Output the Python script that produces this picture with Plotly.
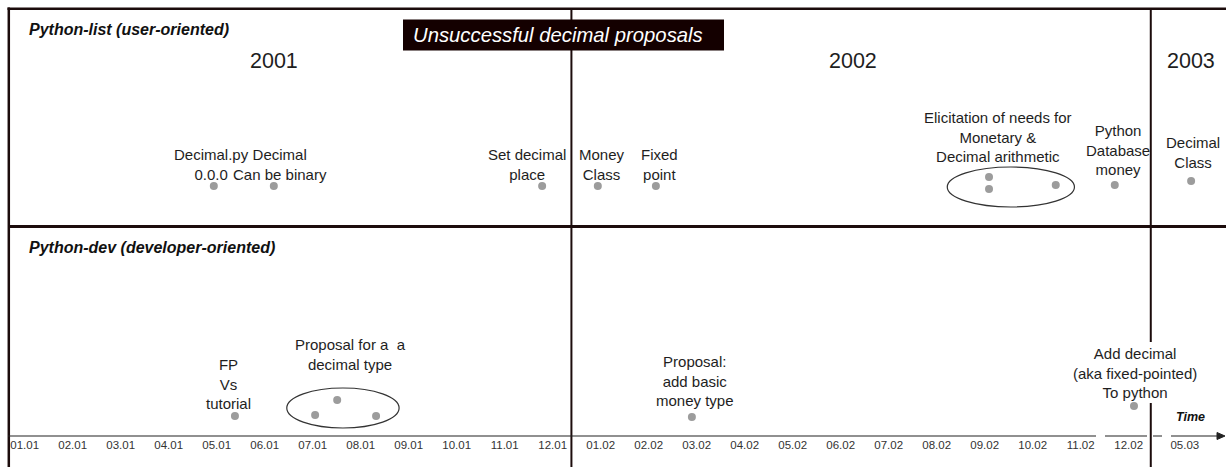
import plotly.graph_objects as go

W, H = 1226, 467

# ---------------- data ----------------
tick_labels = ["01.01", "02.01", "03.01", "04.01", "05.01", "06.01", "07.01", "08.01",
               "09.01", "10.01", "11.01", "12.01", "01.02", "02.02", "03.02", "04.02",
               "05.02", "06.02", "07.02", "08.02", "09.02", "10.02", "11.02", "12.02", "05.03"]
# month index on the time axis (05.03 follows a compressed time break)
tick_months = list(range(24)) + [24.17]

years = ["2001", "2002", "2003"]
year_label_month = [5.19, 17.26, 24.30]
year_boundary_month = [11.39, 23.46]

# Python-list (user-oriented) events: month index, height above time axis
user_month = [3.94, 5.19, 10.78, 11.94, 13.15, 20.09, 20.09, 21.48, 22.71, 24.30]
user_height = [250, 250, 250, 250, 250, 259, 247, 251, 251, 255]
user_labels = ["Decimal.py<br>0.0.0", "Decimal<br>Can be binary", "Set decimal<br>place",
               "Money<br>Class", "Fixed<br>point",
               "Elicitation of needs for<br>Monetary &<br>Decimal arithmetic",
               "Python<br>Database<br>money", "Decimal<br>Class"]
user_label_event = [0, 1, 2, 3, 4, 5, 8, 9]

# Python-dev (developer-oriented) events
dev_month = [4.38, 6.05, 6.51, 7.32, 13.90, 23.11]
dev_height = [20, 21, 36, 20, 19, 30]
dev_labels = ["FP<br>Vs<br>tutorial", "Proposal for a&nbsp; a<br>decimal type",
              "Proposal:<br>add basic<br>money type",
              "Add decimal<br>(aka fixed-pointed)<br>To python"]
dev_label_event = [0, 2, 4, 5]

# grouped discussions (ellipses): month from, month to, height low, height high
groups = [(19.22, 21.87, 229, 269), (5.46, 7.80, 8, 48)]

# ---------------- styling / layout ----------------
FONT = "Liberation Sans, Arial, Helvetica, sans-serif"
TXT = "#1e1e1e"
FRAME = "#1c0c0c"
DOT = "#9c9c9c"
user_label_shift = [(-2, 21.5), (6, 21.5), (-15, 21.5), (4, 21.5), (4, 21.5), (9, 40), (3, 35), (2, 29)]
dev_label_shift = [(-6, 32), (13, 45.5), (3, 36.5), (1, 33)]

Y_MIN, Y_MAX = -31, 436   # time axis at 0
X_MIN, X_MAX = (0 - 24.7) / 48.0, (W - 24.7) / 48.0


def px(x):
    """window x pixel -> paper"""
    return x / W


def py(y):
    """window y pixel -> paper"""
    return 1 - y / H


fig = go.Figure()

fig.add_trace(go.Scatter(x=user_month, y=user_height, mode="markers",
                         marker=dict(size=8, color=DOT), hoverinfo="skip", showlegend=False))
fig.add_trace(go.Scatter(x=dev_month, y=dev_height, mode="markers",
                         marker=dict(size=8, color=DOT), hoverinfo="skip", showlegend=False))

shapes = []
# frame
shapes.append(dict(type="line", xref="paper", yref="paper", x0=px(7.5), x1=1, y0=py(8.7), y1=py(8.7),
                   line=dict(color=FRAME, width=2.5)))
shapes.append(dict(type="line", xref="paper", yref="paper", x0=px(8.8), x1=px(8.8), y0=py(7.5), y1=0,
                   line=dict(color=FRAME, width=2.5)))
shapes.append(dict(type="line", xref="paper", yref="paper", x0=px(8), x1=1, y0=py(226.5), y1=py(226.5),
                   line=dict(color=FRAME, width=3)))
# year boundaries
shapes.append(dict(type="line", xref="x", yref="paper", x0=year_boundary_month[0], x1=year_boundary_month[0],
                   y0=py(8), y1=0, line=dict(color=FRAME, width=2)))
shapes.append(dict(type="line", xref="x", yref="paper", x0=year_boundary_month[1], x1=year_boundary_month[1],
                   y0=py(8), y1=py(342), line=dict(color=FRAME, width=2)))
shapes.append(dict(type="line", xref="x", yref="paper", x0=year_boundary_month[1], x1=year_boundary_month[1],
                   y0=py(403), y1=0, line=dict(color=FRAME, width=2)))
# time axis with breaks
axis_y = py(436)
for a, b, dash in [(8, 1087, "solid"), (1087, 1114, "dash"), (1114, 1147, "solid"),
                   (1153, 1177, "dash"), (1177, 1220, "solid")]:
    shapes.append(dict(type="line", xref="paper", yref="paper", x0=px(a), x1=px(b), y0=axis_y, y1=axis_y,
                       line=dict(color="#222222", width=1.2, dash=dash)))
shapes.append(dict(type="path", xref="paper", yref="paper",
                   path=f"M {px(1217)},{py(432.5)} L {px(1225)},{py(436)} L {px(1217)},{py(439.5)} Z",
                   fillcolor="#222222", line=dict(color="#222222", width=1)))
# group ellipses
for x0, x1, y0, y1 in groups:
    shapes.append(dict(type="circle", xref="x", yref="y", x0=x0, x1=x1, y0=y0, y1=y1,
                       line=dict(color="#333333", width=1.2)))
# title box
shapes.append(dict(type="rect", xref="paper", yref="paper", x0=px(403), x1=px(724), y0=py(50.5), y1=py(19.5),
                   fillcolor="#140000", line=dict(width=0)))

annotations = []
annotations.append(dict(xref="paper", yref="paper", x=px(411), y=py(35), xanchor="left", yanchor="middle",
                        text="<i>Unsuccessful decimal proposals</i>", showarrow=False,
                        font=dict(family=FONT, size=20.3, color="white")))
annotations.append(dict(xref="paper", yref="paper", x=px(27), y=py(29), xanchor="left", yanchor="middle",
                        text="<b><i>Python-list (user-oriented)</i></b>", showarrow=False,
                        font=dict(family=FONT, size=16, color="#111111")))
annotations.append(dict(xref="paper", yref="paper", x=px(27), y=py(247), xanchor="left", yanchor="middle",
                        text="<b><i>Python-dev (developer-oriented)</i></b>", showarrow=False,
                        font=dict(family=FONT, size=16, color="#111111")))
for name, m in zip(years, year_label_month):
    annotations.append(dict(xref="x", yref="paper", x=m, y=py(61), xanchor="center", yanchor="middle",
                            text=name, showarrow=False, font=dict(family=FONT, size=21.5, color=TXT)))
for lab, ev, (dx, dy) in zip(user_labels, user_label_event, user_label_shift):
    annotations.append(dict(xref="x", yref="y", x=user_month[ev], y=user_height[ev], xshift=dx, yshift=dy,
                            xanchor="center", yanchor="middle", text=lab, showarrow=False,
                            font=dict(family=FONT, size=15, color=TXT)))
for lab, ev, (dx, dy) in zip(dev_labels, dev_label_event, dev_label_shift):
    annotations.append(dict(xref="x", yref="y", x=dev_month[ev], y=dev_height[ev], xshift=dx, yshift=dy,
                            xanchor="center", yanchor="middle", text=lab, showarrow=False,
                            font=dict(family=FONT, size=15, color=TXT)))
annotations.append(dict(xref="paper", yref="paper", x=px(1190), y=py(417), xanchor="center", yanchor="middle",
                        text="<b><i>Time</i></b>", showarrow=False,
                        font=dict(family=FONT, size=12.5, color="#111111")))

fig.update_layout(
    width=W, height=H, margin=dict(l=0, r=0, t=0, b=0),
    paper_bgcolor="white", plot_bgcolor="white",
    shapes=shapes, annotations=annotations, showlegend=False,
    xaxis=dict(range=[X_MIN, X_MAX], showgrid=False, zeroline=False, showline=False,
               tickvals=tick_months, ticktext=tick_labels, ticks="", anchor="free",
               position=(H - 436) / H, tickfont=dict(family=FONT, size=11.5, color="#333333"),
               fixedrange=True),
    yaxis=dict(range=[Y_MIN, Y_MAX], visible=False, fixedrange=True),
)

# remove the default page margin so the figure fills the window exactly
fig.write_html("out.html", config={"displayModeBar": False, "staticPlot": True},
               post_script="document.body.style.margin='0';document.body.style.overflow='hidden';")
